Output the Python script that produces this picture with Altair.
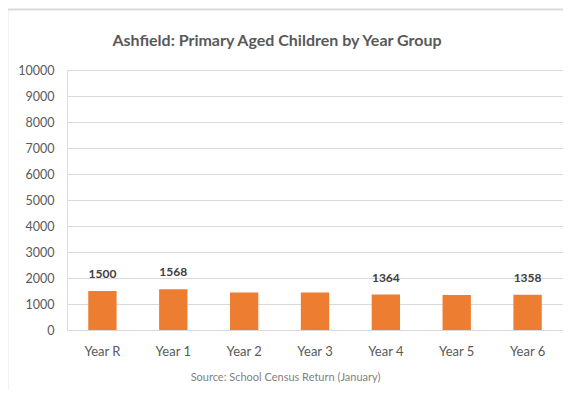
import altair as alt
import pandas as pd

years = ["Year R", "Year 1", "Year 2", "Year 3", "Year 4", "Year 5", "Year 6"]
pupils = [1500, 1568, 1440, 1440, 1364, 1350, 1358]
shown_labels = ["1500", "1568", "", "", "1364", "", "1358"]
y_ticks = [0, 1000, 2000, 3000, 4000, 5000, 6000, 7000, 8000, 9000, 10000]
chart_title = ["Ashfield: Primary Aged Children by Year Group"]

df = pd.DataFrame({"year": years, "pupils": pupils, "label": shown_labels})
title_df = pd.DataFrame({"t": chart_title})

W, H = 496, 260
FONT = "Lato"

x_enc = alt.X(
    "year:N",
    sort=years,
    scale=alt.Scale(paddingInner=0.6, paddingOuter=0.3),
    axis=alt.Axis(
        title="Source: School Census Return (January)",
        titleFont=FONT,
        titleFontSize=11,
        titleFontWeight="normal",
        titleColor="#7f7f7f",
        titleX=218,
        titleY=47,
        titleBaseline="middle",
        titleAlign="center",
        labelAngle=0,
        labelFont=FONT,
        labelFontSize=13,
        labelColor="#595959",
        labelPadding=15,
        domain=False,
        ticks=False,
        tickSize=0,
        grid=False,
    ),
)
y_enc = alt.Y(
    "pupils:Q",
    scale=alt.Scale(domain=[0, 10000], nice=False),
    axis=alt.Axis(
        title=None,
        values=y_ticks,
        tickCount=11,
        format="d",
        labelOverlap=False,
        labelFont=FONT,
        labelFontSize=12.5,
        labelColor="#595959",
        labelPadding=13,
        domain=False,
        ticks=False,
        tickSize=0,
        grid=True,
        gridColor="#d9d9d9",
        gridWidth=1,
    ),
)

bars = alt.Chart(df).mark_bar(color="#ED7D31").encode(x=x_enc, y=y_enc)

labels = alt.Chart(df).mark_text(
    font=FONT, fontSize=12, fontWeight="bold", color="#404040", dy=-17, baseline="middle"
).encode(
    x=x_enc,
    y=y_enc,
    text="label:N",
)

title_mark = alt.Chart(title_df).mark_text(
    font=FONT, fontSize=16, fontWeight="bold", color="#595959",
    align="center", baseline="alphabetic",
).encode(x=alt.value(210), y=alt.value(-24), text="t:N")

border_top = alt.Chart(title_df).mark_rule(color="#d9d9d9", strokeWidth=2).encode(
    x=alt.value(-60), x2=alt.value(520), y=alt.value(-60.5)
)
border_left = alt.Chart(title_df).mark_rule(color="#d9d9d9", strokeWidth=2).encode(
    x=alt.value(-59.7), y=alt.value(-61), y2=alt.value(340)
)

chart = (
    alt.layer(bars, labels, title_mark, border_top, border_left)
    .properties(
        width=W,
        height=H,
        autosize=alt.AutoSizeParams(type="none"),
        padding={"left": 59, "top": 62, "right": 0, "bottom": 60},
    )
    .configure_view(stroke="transparent", strokeWidth=0)
    .configure(background="white")
)

chart.save("out.html", embed_options={"renderer": "svg", "actions": False})
